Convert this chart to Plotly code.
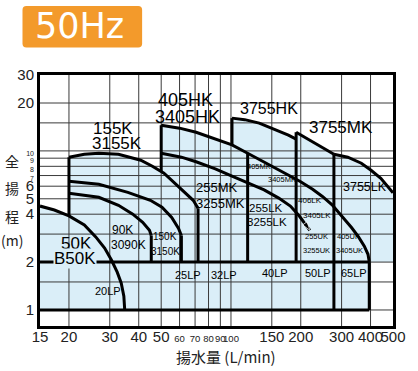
import numpy as np
import plotly.graph_objects as go

# ---------------- data: pump curves, flow (L/min) vs total head (m) ----------------
q_20lp = [15, 17.3, 20, 23.3, 26.1, 28.5, 30.5, 32.3, 33.6, 34.5, 34.8]
h_20lp = [4.5, 4.25, 3.9, 3.42, 2.88, 2.45, 2.06, 1.73, 1.48, 1.22, 1.0]

q_155k = [20, 23.3, 26.9, 32.7, 40.8, 45.8, 51.4, 60.0, 68.7, 72.1]
h_155k = [9.12, 9.53, 9.67, 9.53, 8.74, 8.01, 7.24, 5.91, 4.89, 4.36]

q_150k = [20, 26.9, 35.9, 44.9, 50.4, 55.5, 59.4, 61.1]
h_150k = [6.45, 6.17, 5.49, 4.89, 4.42, 3.82, 3.26, 2.94]

q_90k = [20, 26.9, 32.7, 37.7, 41.6, 44.5, 45.3]
h_90k = [5.42, 5.11, 4.55, 4.00, 3.56, 3.17, 2.94]

q_405 = [50, 60, 70.7, 83.3, 101, 118, 139, 169, 199, 225, 248, 273, 301, 331, 355, 376, 390, 395]
h_405 = [14.5, 13.9, 13.1, 12.1, 10.9, 9.67, 8.49, 7.33, 6.42, 5.74, 5.17, 4.58, 3.91, 3.30, 2.88, 2.52, 2.24, 2.0]

q_255 = [50, 61.1, 70.7, 85.6, 101, 118, 139, 160.7, 180.4, 196.8, 208.6, 218.9]
h_255 = [9.67, 9.13, 8.55, 7.71, 6.93, 6.28, 5.69, 5.05, 4.50, 3.91, 3.51, 3.17]

q_3755hk = [101, 114.6, 132.4, 153, 176.9, 191]
h_3755hk = [16.07, 15.72, 14.94, 13.70, 12.56, 11.85]

q_3755mk = [191, 218.8, 248, 278]
h_3755mk = [13.11, 11.68, 10.47, 9.53]

q_3755lk = [278, 319, 365, 402, 443, 500]
h_3755lk = [9.53, 9.13, 8.37, 7.56, 6.73, 5.45]

# range limits / band heads
Q_MIN, Q_MAX = 15, 500
H_MIN, H_MAX = 0.793, 30
LP_TOP, LP_BOTTOM = 2.0, 1.0
LP_END = 395
Q_K_MIN = 20          # 155K / 150K / 90K minimum flow
Q_405MK_MIN = 118     # 405MK / 255LK minimum flow

# ticks / grid
x_ticks = [15, 20, 30, 40, 50, 60, 70, 80, 90, 100, 150, 200, 300, 400, 500]
x_small = [60, 70, 80, 90, 100]
y_ticks = [1, 2, 4, 5, 6, 7, 8, 9, 10, 20, 30]
y_small = [7, 8, 9, 10]
grid_x = [20, 30, 40, 50, 60, 70, 80, 90, 100, 150, 200, 300, 400]
grid_y = [1, 1.5, 2, 3, 4, 5, 6, 7, 8, 9, 10, 15, 20]

# model labels: text, flow, head, font size
labels = [
    ("155K", 31.1, 13.9, 17), ("3155K", 32.3, 11.2, 17),
    ("405HK", 63.6, 20.9, 18), ("3405HK", 64.8, 16.3, 18),
    ("3755HK", 145.8, 18.6, 16), ("3755MK", 298, 14.1, 17),
    ("255MK", 87.4, 5.91, 13), ("3255MK", 90.0, 4.69, 13),
    ("90K", 33.9, 3.17, 12), ("3090K", 36.3, 2.55, 12),
    ("150K", 51.9, 2.90, 10), ("3150K", 52.4, 2.34, 10),
    ("50K", 21.5, 2.62, 17), ("B50K", 21.3, 2.11, 17),
    ("20LP", 29.6, 1.31, 11), ("25LP", 65.4, 1.67, 11), ("32LP", 93.5, 1.67, 11),
    ("40LP", 154.6, 1.70, 11), ("50LP", 236.4, 1.70, 11), ("65LP", 341, 1.70, 11),
    ("255LK", 141.7, 4.36, 11.5), ("3255LK", 143, 3.56, 11.5),
    ("405MK", 132.4, 8.01, 7.5), ("3405MK", 165.4, 6.63, 7.5),
    ("406LK", 218.8, 4.89, 8), ("3405LK", 234.2, 3.94, 8),
    ("255UK", 234, 2.90, 7.5), ("3255UK", 234, 2.37, 7.5),
    ("405UK", 322, 2.90, 7.5), ("3405UK", 325, 2.37, 7.5),
    ("3755LK", 380, 5.91, 12.5),
]
knockout = ["B50K"]

# ---------------- styling ----------------
BLUE = "#DAEEF8"
ORANGE = "#F39A2B"
GRID = "#3a3a3a"
LW = 3
SANS = "Liberation Sans, Arial, sans-serif"
CJK = "Noto Sans CJK JP, Noto Sans CJK SC, sans-serif"


def head_at(qs, hs, q):
    return float(10 ** np.interp(np.log10(q), np.log10(qs), np.log10(hs)))


def seg(qs, hs, qa, qb):
    pq = [qa] + [q for q in qs if qa < q < qb] + [qb]
    return pq, [head_at(qs, hs, q) for q in pq]


# envelope of all model ranges (shaded area)
env_q, env_h = [Q_MIN], [LP_BOTTOM]
for qs, hs, qa, qb in [(q_20lp, h_20lp, Q_MIN, Q_K_MIN),
                       (q_155k, h_155k, Q_K_MIN, q_405[0]),
                       (q_405, h_405, q_405[0], q_3755hk[0]),
                       (q_3755hk, h_3755hk, q_3755hk[0], q_3755mk[0]),
                       (q_3755mk, h_3755mk, q_3755mk[0], q_3755lk[0]),
                       (q_3755lk, h_3755lk, q_3755lk[0], Q_MAX)]:
    a, b = seg(qs, hs, qa, qb)
    env_q += a
    env_h += b
env_q += [Q_MAX, LP_END, LP_END, Q_MIN]
env_h += [LP_TOP, LP_TOP, LP_BOTTOM, LP_BOTTOM]

fig = go.Figure()
fig.add_trace(go.Scatter(x=env_q, y=env_h, mode="lines", fill="toself", fillcolor=BLUE,
                         line=dict(width=0), hoverinfo="skip"))

# grid lines drawn above the shading
gx, gy = [], []
for v in grid_x:
    gx += [v, v, None]
    gy += [H_MIN, H_MAX, None]
for v in grid_y:
    gx += [Q_MIN, Q_MAX, None]
    gy += [v, v, None]
fig.add_trace(go.Scatter(x=gx, y=gy, mode="lines", line=dict(color=GRID, width=1), hoverinfo="skip"))

# range boundaries
curves = [(q_20lp, h_20lp), (q_155k, h_155k), (q_150k, h_150k), (q_90k, h_90k),
          (q_405, h_405), (q_255, h_255), (q_3755hk, h_3755hk), (q_3755mk, h_3755mk),
          (q_3755lk, h_3755lk)]
edges = [
    (Q_K_MIN, h_155k[0], head_at(q_20lp, h_20lp, Q_K_MIN)),
    (q_90k[-1], h_90k[-1], LP_TOP),
    (q_150k[-1], h_150k[-1], LP_TOP),
    (q_155k[-1], h_155k[-1], LP_TOP),
    (q_405[0], h_405[0], head_at(q_155k, h_155k, q_405[0])),
    (q_3755hk[0], h_3755hk[0], head_at(q_405, h_405, q_3755hk[0])),
    (Q_405MK_MIN, head_at(q_405, h_405, Q_405MK_MIN), LP_TOP),
    (q_3755mk[0], h_3755mk[0], LP_TOP),
    (q_3755lk[0], h_3755lk[0], LP_BOTTOM),
    (LP_END, LP_TOP, LP_BOTTOM),
]
lx, ly = [], []
for qs, hs in curves:
    lx += list(qs) + [None]
    ly += list(hs) + [None]
for q, ht, hb in edges:
    lx += [q, q, None]
    ly += [ht, hb, None]
for h in (LP_TOP, LP_BOTTOM):
    lx += [Q_MIN, LP_END, None]
    ly += [h, h, None]
fig.add_trace(go.Scatter(x=lx, y=ly, mode="lines", line=dict(color="black", width=LW),
                         hoverinfo="skip"))
# arrow head at the end of the 255 curve
fig.add_trace(go.Scatter(x=q_255[-2:], y=h_255[-2:], mode="markers",
                         marker=dict(symbol="arrow", angleref="previous", size=[0, 9], color="black"),
                         hoverinfo="skip"))

for text, q, h, size in labels:
    fig.add_annotation(x=np.log10(q), y=np.log10(h), xref="x", yref="y", text=text,
                       showarrow=False, xanchor="center", yanchor="middle",
                       bgcolor=BLUE if text in knockout else None, borderpad=0,
                       font=dict(family=SANS, size=size, color="black"))


def xlab(v):
    if v in x_small:
        return f'<span style="font-size:9.5px">{v}</span>'
    return str(v)


def ylab(v):
    if v in y_small:
        return f'<span style="font-size:7px">{v}</span>'
    return str(v)


fig.update_layout(
    width=418, height=371, margin=dict(l=40, r=15, t=75, b=45),
    paper_bgcolor="white", plot_bgcolor="white", showlegend=False,
    xaxis=dict(type="log", range=[np.log10(Q_MIN), np.log10(Q_MAX)], showgrid=False, zeroline=False,
               showline=True, linewidth=3, linecolor="black", mirror=True,
               tickvals=x_ticks, ticktext=[xlab(v) for v in x_ticks], ticks="", tickangle=0,
               ticklabelstandoff=-5,
               tickfont=dict(family=SANS, size=15, color="#222")),
    yaxis=dict(type="log", range=[np.log10(H_MIN), np.log10(H_MAX)], showgrid=False, zeroline=False,
               showline=True, linewidth=3, linecolor="black", mirror=True,
               tickvals=y_ticks, ticktext=[ylab(v) for v in y_ticks], ticks="", tickangle=0,
               tickfont=dict(family=SANS, size=15, color="#222")),
)

# axis titles
for ch, yp in [("全", 0.657), ("揚", 0.550), ("程", 0.438), ("(m)", 0.343)]:
    fig.add_annotation(xref="paper", yref="paper", x=-0.080, y=yp, text=ch, showarrow=False,
                       xanchor="center", yanchor="middle",
                       font=dict(family=CJK, size=14, color="#222"))
fig.add_annotation(xref="paper", yref="paper", x=0.526, y=-0.1235, text="揚水量 (L/min)",
                   showarrow=False, xanchor="center", yanchor="middle",
                   font=dict(family=CJK, size=15, color="#222"))

# orange "50Hz" badge
x0, x1, y0, y1, rx, ry = -0.0496, 0.2893, 1.1096, 1.2749, 0.011, 0.016
path = (f"M {x0+rx},{y1} L {x1-rx},{y1} Q {x1},{y1} {x1},{y1-ry} L {x1},{y0+ry} "
        f"Q {x1},{y0} {x1-rx},{y0} L {x0+rx},{y0} Q {x0},{y0} {x0},{y0+ry} "
        f"L {x0},{y1-ry} Q {x0},{y1} {x0+rx},{y1} Z")
fig.add_shape(type="path", path=path, xref="paper", yref="paper", fillcolor=ORANGE,
              line=dict(width=0), layer="above")
fig.add_annotation(xref="paper", yref="paper", x=0.1116, y=1.194, text="50Hz", showarrow=False,
                   xanchor="center", yanchor="middle",
                   font=dict(family="DejaVu Sans", size=35, color="white"))

fig.write_html("out.html")
